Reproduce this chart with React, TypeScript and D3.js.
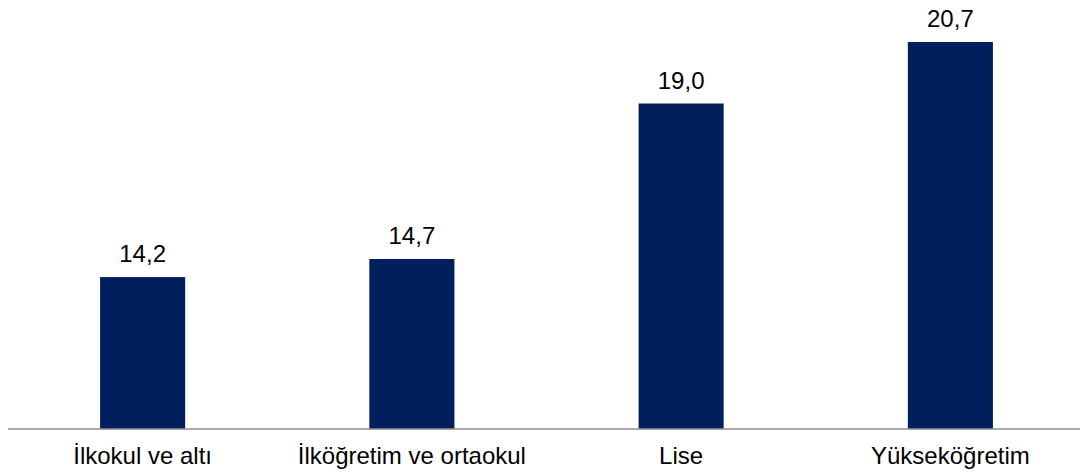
import React from "react";
import * as d3 from "d3";

const categories = ["İlkokul ve altı", "İlköğretim ve ortaokul", "Lise", "Yükseköğretim"];
const values = [14.2, 14.7, 19.0, 20.7];

const width = 1080;
const height = 472;
const baseline = 429;

export default function App() {
	const xScale = d3.scaleBand().domain(categories).range([8, 1085]).paddingInner(0.684).paddingOuter(0.342);
	const yScale = d3.scaleLinear().domain([10, 22]).range([baseline, -5]);
	const fmt = (v: number) => v.toFixed(1).replace(".", ",");

	return (
		<svg
			width={width}
			height={height}
			style={{ position: "absolute", left: 0, top: 0, fontFamily: "'Liberation Sans', Arial, sans-serif" }}
		>
			<rect width={width} height={height} fill="#ffffff" />
			{values.map((v, i) => {
				const x = xScale(categories[i]) as number;
				return (
					<g key={categories[i]}>
						<rect x={x} y={yScale(v)} width={xScale.bandwidth()} height={baseline - yScale(v)} fill="#001f5c" />
						<text x={x + xScale.bandwidth() / 2} y={yScale(v) - 15} textAnchor="middle" fontSize={24} fill="#000">
							{fmt(v)}
						</text>
					</g>
				);
			})}
			<line x1={8} x2={1080} y1={baseline} y2={baseline} stroke="#8c8c8c" strokeWidth={1.5} />
			{categories.map((c) => (
				<text
					key={c}
					x={(xScale(c) as number) + xScale.bandwidth() / 2}
					y={464}
					textAnchor="middle"
					fontSize={24}
					fill="#000"
				>
					{c}
				</text>
			))}
		</svg>
	);
}
